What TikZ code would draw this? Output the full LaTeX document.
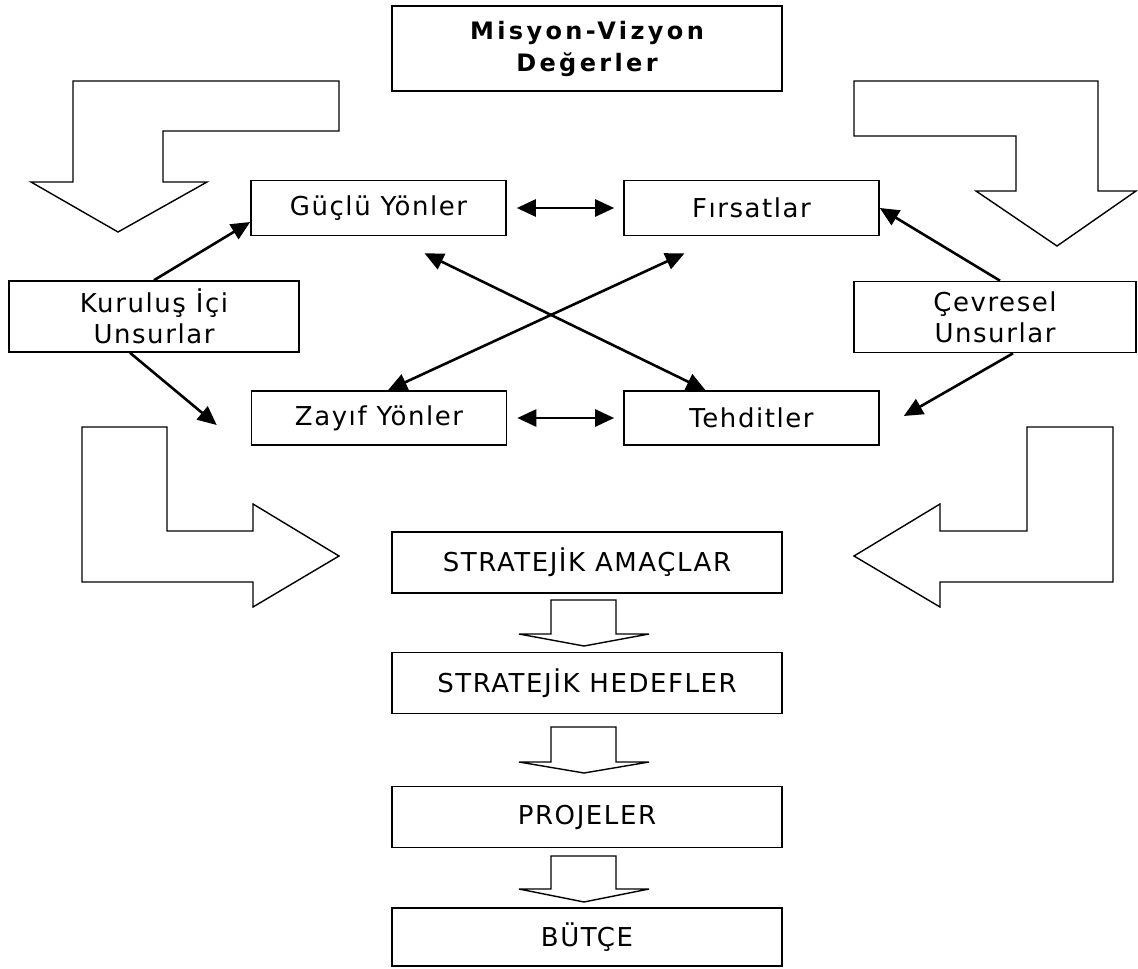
\documentclass[tikz,border=0pt]{standalone}
\usepackage{fontspec}
\setmainfont{DejaVu Sans}
\newfontfamily\boxfont{DejaVu Sans}[LetterSpace=6]
\newfontfamily\titlefont{DejaVu Sans}[LetterSpace=14]
\usetikzlibrary{arrows.meta}

\begin{document}
\begin{tikzpicture}
    [
        x=1pt, y=-1pt,
        Field/.style={rectangle, draw, line width=1.6pt, minimum width=255pt, minimum height=55pt, inner sep=0pt, align=center, font=\boxfont\fontsize{26}{31}\selectfont},
        Side/.style={Field, minimum width=290pt, minimum height=71pt},
        Stage/.style={Field, minimum width=390pt, minimum height=61pt},
        Title/.style={Field, minimum width=390pt, minimum height=85pt, font=\titlefont\bfseries\fontsize{24}{32}\selectfont},
        Link/.style={line width=2.6pt, -{Triangle[length=19pt,width=17pt]}},
        Both/.style={line width=2.6pt, {Triangle[length=19pt,width=17pt]}-{Triangle[length=19pt,width=17pt]}},
        BigArrow/.style={draw, line width=1.4pt, line join=miter},
        SmallArrow/.style={draw, line width=1.4pt}
    ]
    \useasboundingbox (0,0) rectangle (1138,969);

    \node[Title] (Mission) at (587,48.5) {Misyon-Vizyon\\Değerler};
    \node[Field] (Strengths) at (378.5,208) {Güçlü Yönler};
    \node[Field] (Chances) at (751.5,208) {Fırsatlar};
    \node[Side] (Inner) at (154,316.5) {Kuruluş İçi\\Unsurlar};
    \node[Side, minimum width=282pt] (Outer) at (995,317) {Çevresel\\Unsurlar};
    \node[Field, minimum height=54pt] (Weak) at (379,418) {Zayıf Yönler};
    \node[Field, minimum height=54pt] (Threats) at (751.5,418) {Tehditler};
    \node[Stage] (Goals) at (587,562.5) {STRATEJİK AMAÇLAR};
    \node[Stage] (Targets) at (587,683) {STRATEJİK HEDEFLER};
    \node[Stage] (Projects) at (587,817) {PROJELER};
    \node[Stage, minimum height=58pt] (Budget) at (587,937) {BÜTÇE};

    % bent block arrows
    \draw[BigArrow] (73,81) -- (339,81) -- (339,131) -- (163,131) -- (163,182) -- (207,182)
        -- (118,232) -- (31,182) -- (73,182) -- cycle;
    \draw[BigArrow] (854,81) -- (1098,81) -- (1098,191) -- (1136,191) -- (1057,246)
        -- (976,191) -- (1016,191) -- (1016,136) -- (854,136) -- cycle;
    \draw[BigArrow] (82,427) -- (167,427) -- (167,531) -- (253,531) -- (253,504)
        -- (339,556) -- (253,607) -- (253,582) -- (82,582) -- cycle;
    \draw[BigArrow] (1113,427) -- (1027,427) -- (1027,531) -- (940,531) -- (940,504)
        -- (854,556) -- (940,607) -- (940,582) -- (1113,582) -- cycle;

    % small block arrows
    \draw[SmallArrow] (551,600) -- (616,600) -- (616,634) -- (649,634) -- (584,646)
        -- (519,634) -- (551,634) -- cycle;
    \draw[SmallArrow] (551,727) -- (616,727) -- (616,762) -- (649,762) -- (584,773)
        -- (519,762) -- (551,762) -- cycle;
    \draw[SmallArrow] (551,856) -- (616,856) -- (616,889) -- (649,889) -- (584,902)
        -- (519,889) -- (551,889) -- cycle;

    % connectors
    \draw[Link] (Inner.north) -- ([yshift=-14pt]Strengths.west);
    \draw[Link] ([xshift=-24pt]Inner.south) -- ([xshift=-34pt,yshift=-7pt]Weak.west);
    \draw[Link] ([xshift=5pt]Outer.north) -- (Chances.east);
    \draw[Link] ([xshift=18pt]Outer.south) -- ([xshift=24pt,yshift=2pt]Threats.east);
    \draw[Both] ([xshift=10pt]Strengths.east) -- ([xshift=-9pt]Chances.west);
    \draw[Both] ([xshift=10pt]Weak.east) -- ([xshift=-9pt]Threats.west);
    \draw[Both] ([xshift=46pt,yshift=-17pt]Strengths.south) -- ([xshift=-46pt]Threats.north);
    \draw[Both] ([xshift=-67pt,yshift=-17pt]Chances.south) -- ([xshift=9pt]Weak.north);
\end{tikzpicture}
\end{document}
